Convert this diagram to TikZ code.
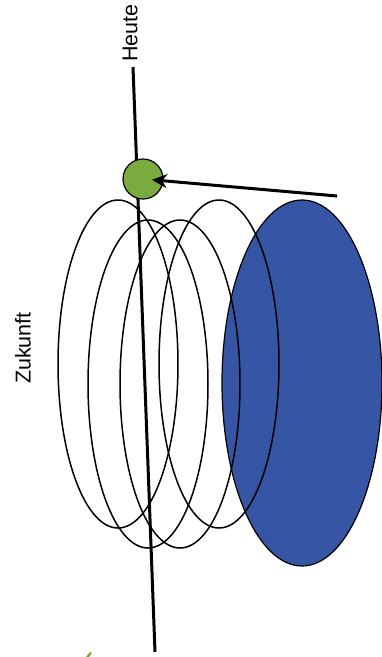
\documentclass[tikz,border=0pt]{standalone}
\usepackage{fontspec}
\setmainfont{Liberation Sans}
\usetikzlibrary{shapes.geometric,arrows.meta}
\definecolor{dotgreen}{RGB}{121,171,64}
\definecolor{futureblue}{RGB}{55,85,165}

\begin{document}
\begin{tikzpicture}[x=1pt, y=-1pt, ring/.style={draw, ellipse, line width=1.5pt, minimum width=120pt, minimum height=328pt, inner sep=0pt}, lbl/.style={rotate=90, font=\fontsize{21.5}{24}\selectfont, inner sep=0pt}]
	\useasboundingbox (0,0) rectangle (382,657);
	\node[ring, fill=futureblue, line width=1.2pt, minimum width=160pt, minimum height=366pt] (B) at (302,383) {};
	\node[ring] (A1) at (118,364) {};
	\node[ring] (A2) at (148,384) {};
	\node[ring] (A3) at (180,384) {};
	\node[ring] (A4) at (219,364) {};
	\node[lbl] (H) at (130,33) {Heute};
	\node[lbl] (Z) at (23,348) {Zukunft};
	\coordinate (T) at (133,67);
	\coordinate (E) at (155,652);
	\draw[line width=3pt] (T) -- (E);
	\node[draw, circle, fill=dotgreen, line width=1.2pt, minimum size=40pt, inner sep=0pt] (N) at (143,179) {};
	\coordinate (S) at (337,196);
	\draw[-{Stealth[length=15pt,width=14pt]}, line width=3pt, shorten >=9pt] (S) -- (N.center);
	\fill[dotgreen] (86,657) -- (90,652) -- (92,653) -- (89,657) -- cycle;
\end{tikzpicture}
\end{document}
